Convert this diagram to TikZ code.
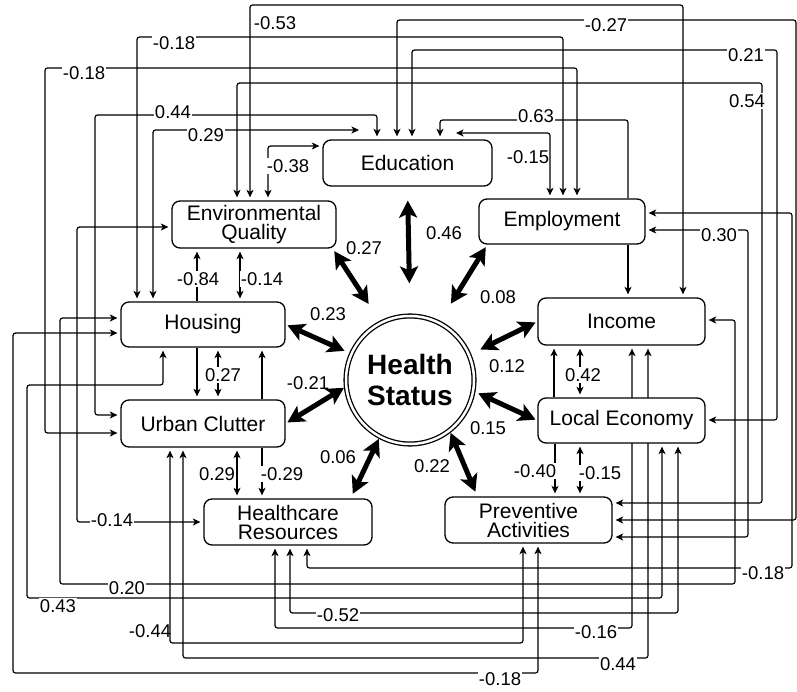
\documentclass[tikz,border=0pt]{standalone}
\usepackage{fontspec}
\setmainfont{Liberation Sans}
\usetikzlibrary{arrows.meta,backgrounds}
\begin{document}
\begin{tikzpicture}[x=1pt,y=-1pt,
  >={Stealth[length=7.5pt,width=7pt,inset=2pt]},
  box/.style={draw, line width=1.3pt, rounded corners=8pt, fill=white, inner sep=0pt, align=center, font=\fontsize{21}{19}\selectfont},
  con/.style={line width=1.2pt, rounded corners=2.5pt},
  bia/.style={con, <->, shorten <=3pt, shorten >=3pt},
  uni/.style={con, ->, shorten >=3pt},
  thk/.style={line width=5pt, {Stealth[length=17pt,width=18pt,inset=4pt]}-{Stealth[length=17pt,width=18pt,inset=4pt]}},
  lab/.style={font=\fontsize{18.5}{20}\selectfont, inner sep=1pt},
  labw/.style={lab, fill=white}]
\useasboundingbox (0,0) rectangle (797,692);

% nodes
\node[box, minimum width=169pt, minimum height=46pt] (edu) at (407.5,163) {Education};
\node[box, minimum width=164pt, minimum height=47pt] (env) at (254,224.5) {Environmental\\Quality};
\node[box, minimum width=166pt, minimum height=45pt] (emp) at (562,221.5) {Employment};
\node[box, minimum width=164pt, minimum height=45pt] (hou) at (203,324.5) {Housing};
\node[box, minimum width=167pt, minimum height=47pt] (inc) at (621.5,321.5) {Income};
\node[box, minimum width=164pt, minimum height=47pt] (uc) at (203,423.5) {Urban Clutter};
\node[box, minimum width=167pt, minimum height=45pt] (le) at (621.5,420.5) {Local Economy};
\node[box, minimum width=168pt, minimum height=46pt] (hc) at (288,522) {Healthcare\\Resources};
\node[box, minimum width=167pt, minimum height=46pt] (prev) at (528.5,520) {Preventive\\Activities};
\node[circle, draw, double, double distance=2.5pt, line width=1.3pt, minimum size=128pt, fill=white, inner sep=0pt, align=center, font=\bfseries\fontsize{28}{31}\selectfont] (hs) at (410,380) {Health\\Status};

\coordinate (e29) at (362,130);
\coordinate (e15) at (453,133);

\begin{pgfonlayer}{background}
\fill[white] (0,0) rectangle (797,692);
% top routes
\draw[bia] (env.north -| 250,0) |- (683,5) -- (inc.north -| 683,0);
\draw[bia] (edu.north -| 397,0) |- (796,20) |- (prev.east |- 0,520);
\draw[bia] (hou.north -| 137,0) |- (563,37) -- (emp.north -| 563,0);
\draw[bia] (edu.north -| 412,0) |- (777,50) |- (le.east |- 0,420);
\draw[bia] (uc.west |- 0,433) -| (45,68) -| (emp.north -| 577,0);
\draw[bia] (env.north -| 237,0) |- (762,83) |- (prev.east |- 0,503);
\draw[bia] (uc.west |- 0,415) -| (95,115) -| (edu.north -| 377,0);
\draw[bia] (hou.north -| 153,0) |- (e29);
\draw[bia] (emp.north -| 550,0) |- (e15);
\draw[uni] (emp.north -| 628,0) |- (440,120) -- (edu.north -| 440,0);
\draw[bia] (env.north -| 268,0) |- (edu.west |- 0,146);
\draw[uni] (emp.south -| 628,0) -- (inc.north -| 628,0);
% left and bottom routes
\draw[bia] (env.west |- 0,227) -| (77,522) -- (hc.west |- 0,522);
\draw[bia] (hou.west |- 0,318) -| (60,584) -| (735,320) -- (inc.east |- 0,320);
\draw[bia] (hou.south -| 163,0) |- (27,385) |- (662,598) -- (le.south -| 662,0);
\draw[bia] (hou.west |- 0,333) -| (13,673) -| (prev.south -| 538,0);
\draw[bia] (uc.south -| 170,0) |- (523,643) -- (prev.south -| 523,0);
\draw[bia] (uc.south -| 183,0) |- (648,658) -- (inc.south -| 648,0);
\draw[bia] (hc.south -| 275,0) |- (632,628) -- (inc.south -| 632,0);
\draw[bia] (hc.south -| 290,0) |- (678,613) -- (le.south -| 678,0);
\draw[bia] (hc.south -| 307,0) |- (792,568) |- (emp.east |- 0,213);
\draw[bia] (emp.east |- 0,230) -| (748,537) -- (prev.east |- 0,537);
% short links
\draw[uni] (hou.south -| 197,0) -- (uc.north -| 197,0);
\draw[bia] (hou.south -| 218,0) -- (uc.north -| 218,0);
\draw[uni] (uc.north -| 262,0) -- (hou.south -| 262,0);
\draw[uni] (hou.north -| 197,0) -- (env.south -| 197,0);
\draw[bia] (hou.north -| 240,0) -- (env.south -| 240,0);
\draw[bia] (uc.south -| 237,0) -- (hc.north -| 237,0);
\draw[uni] (uc.south -| 262,0) -- (hc.north -| 262,0);
\draw[uni] (le.north -| 554,0) -- (inc.south -| 554,0);
\draw[bia] (le.north -| 580,0) -- (inc.south -| 580,0);
\draw[uni] (le.south -| 555,0) -- (prev.north -| 555,0);
\draw[bia] (le.south -| 580,0) -- (prev.north -| 580,0);
\end{pgfonlayer}

% thick links to Health Status
\draw[thk, shorten <=14pt, shorten >=32pt] (edu.south) -- (hs.north);
\draw[thk, shorten <=3pt, shorten >=22pt] ([xshift=-4pt]env.south east) -- (hs.117);
\draw[thk, shorten <=3pt, shorten >=22pt] ([xshift=9pt]emp.south west) -- (hs.63);
\draw[thk, shorten <=2pt, shorten >=7pt] (hou.east) -- (hs.156);
\draw[thk, shorten <=2pt, shorten >=12pt] (inc.west) -- (hs.23);
\draw[thk, shorten <=2pt, shorten >=2pt] (uc.east) -- (hs.186);
\draw[thk, shorten <=2pt, shorten >=5pt] (le.west) -- (hs.350);
\draw[thk, shorten <=5pt, shorten >=2pt] ([xshift=-22pt]hc.north east) -- (hs.242);
\draw[thk, shorten <=5pt, shorten >=2pt] ([xshift=33pt]prev.north west) -- (hs.308);

% labels of thick links
\node[lab] (t46) at (444,233) {0.46};
\node[lab] (t27) at (364,248) {0.27};
\node[lab] (t08) at (498,297) {0.08};
\node[lab] (t23) at (328,314) {0.23};
\node[lab] (t12) at (507,366) {0.12};
\node[lab] (t21) at (308,383) {-0.21};
\node[lab] (t15) at (488,428) {0.15};
\node[lab] (t06) at (338,457) {0.06};
\node[lab] (t22) at (432,466) {0.22};

% labels of thin links
\node[lab]  (l53)  at (275,23)  {-0.53};
\node[labw] (l27t) at (606,25)  {-0.27};
\node[labw] (l18a) at (174,43)  {-0.18};
\node[labw] (l21)  at (746,55)  {0.21};
\node[labw] (l18b) at (84,73)   {-0.18};
\node[labw] (l54)  at (747,101) {0.54};
\node[labw] (l44a) at (173,112) {0.44};
\node[labw] (l29a) at (206,135) {0.29};
\node[labw] (l63)  at (536,116) {0.63};
\node[lab]  (l15a) at (528,157) {-0.15};
\node[labw] (l38)  at (288,166) {-0.38};
\node[labw] (l30)  at (719,235) {0.30};
\node[labw] (l84)  at (198,279) {-0.84};
\node[labw] (l14a) at (262,279) {-0.14};
\node[labw] (l27m) at (223,375) {0.27};
\node[labw] (l42)  at (583,375) {0.42};
\node[lab]  (l29b) at (217,474) {0.29};
\node[labw] (l29c) at (282,474) {-0.29};
\node[labw] (l40)  at (535,471) {-0.40};
\node[labw] (l15b) at (600,473) {-0.15};
\node[labw] (l14b) at (112,520) {-0.14};
\node[labw] (l20)  at (127,588) {0.20};
\node[labw] (l43)  at (58,606)  {0.43};
\node[labw] (l52)  at (338,615) {-0.52};
\node[lab]  (l44b) at (150,631) {-0.44};
\node[labw] (l16)  at (596,632) {-0.16};
\node[labw] (l44c) at (618,664) {0.44};
\node[labw] (l18c) at (763,573) {-0.18};
\node[labw] (l18d) at (500,679) {-0.18};
\end{tikzpicture}
\end{document}
